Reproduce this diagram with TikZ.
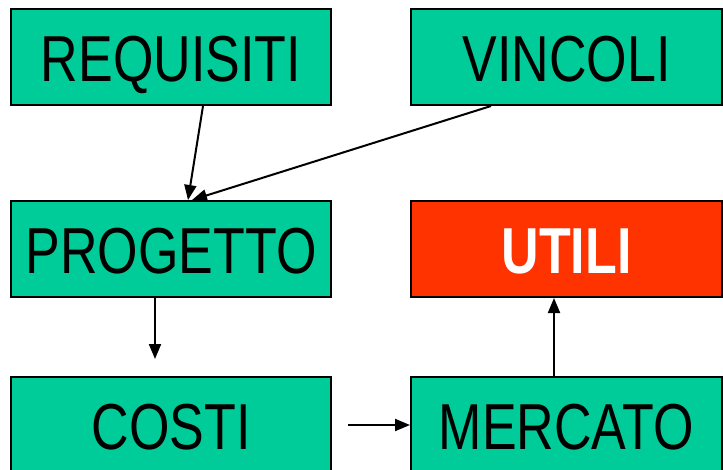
\documentclass[tikz,border=0pt]{standalone}
\usepackage{fontspec}
\setmainfont{Liberation Sans}
\usetikzlibrary{arrows.meta}
\definecolor{boxgreen}{HTML}{00CC99}
\definecolor{boxred}{HTML}{FF3300}
\newcommand{\narrow}[1]{\scalebox{0.8}[1]{#1}}

\begin{document}
\begin{tikzpicture}[x=1pt,y=-1pt]
\tikzset{block/.style={draw,line width=2pt,fill=boxgreen,minimum width=320pt,minimum height=96pt,
    inner sep=0pt,text height=48.5pt,text depth=-1.5pt,font=\fontsize{65}{65}\selectfont},
  wide/.style={block,minimum width=311pt},
  link/.style={line width=2pt,-{Triangle[length=15pt,width=12pt]}}}
\useasboundingbox (0,0) rectangle (723,469);
\node[block] (req) at (171,57) {\narrow{REQUISITI}};
\node[wide] (vinc) at (566.5,57) {\narrow{VINCOLI}};
\node[block] (prog) at (171,249) {\narrow{PROGETTO}};
\node[wide,fill=boxred,text=white,font=\fontsize{65}{65}\selectfont\bfseries] (util) at (566.5,249) {\narrow{UTILI}};
\node[block] (cost) at (171,425) {\narrow{COSTI}};
\node[wide] (merc) at (566.5,425) {\narrow{MERCATO}};
% arrows
\draw[link] ([xshift=32pt]req.south) -- ([xshift=17pt]prog.north);
\draw[link] ([xshift=-75.5pt]vinc.south) -- ([xshift=21pt]prog.north);
\draw[link,shorten >=17pt] ([xshift=-16pt]prog.south) -- ([xshift=-16pt]cost.north);
\draw[link,shorten <=16pt] (cost.east) -- (merc.west);
\draw[link] ([xshift=-12.5pt]merc.north) -- ([xshift=-12.5pt]util.south);
\end{tikzpicture}
\end{document}
